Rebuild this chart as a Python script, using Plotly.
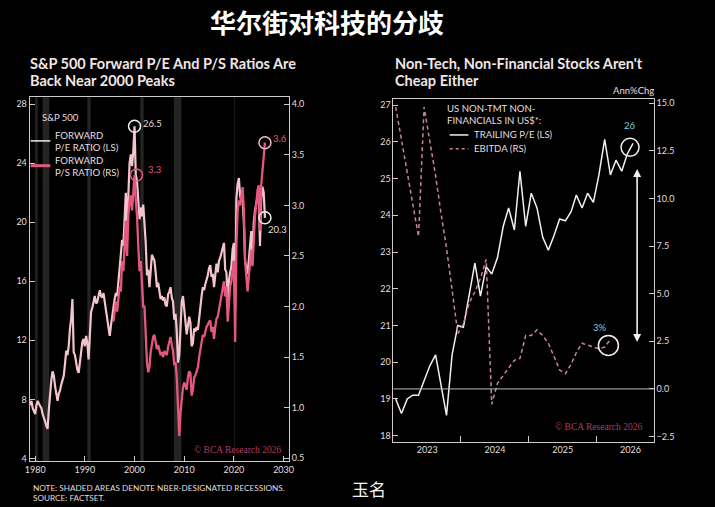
import pandas as pd
import plotly.graph_objects as go

# ---------------- LEFT CHART DATA (quarterly, from 1979Q1) ----------------
pe_start = "1979-01-01"
fwd_pe = [
    7.6, 7.9, 7.4, 7.2,      # 1979
    7.0, 7.6, 7.9, 7.7,      # 1980
    7.5, 7.4, 7.0, 6.8,      # 1981
    6.5, 6.2, 6.0, 7.3,      # 1982
    8.4, 9.3, 9.9, 9.6,      # 1983
    8.9, 8.2, 7.9, 8.4,      # 1984
    8.6, 9.0, 9.4, 9.6,      # 1985
    10.4, 11.3, 11.0, 11.6,  # 1986
    12.8, 13.5, 14.8, 11.2,  # 1987
    11.0, 10.4, 10.0, 9.8,   # 1988
    10.5, 11.2, 11.9, 12.1,  # 1989
    11.6, 12.3, 11.8, 10.7,  # 1990
    12.4, 13.9, 14.2, 14.6,  # 1991
    15.0, 14.5, 14.6, 15.0,  # 1992
    15.4, 15.0, 14.9, 15.2,  # 1993
    14.6, 13.9, 13.4, 12.6,  # 1994
    12.3, 13.0, 13.8, 14.2,  # 1995
    14.8, 15.2, 15.0, 16.0,  # 1996
    16.6, 17.4, 18.8, 18.4,  # 1997
    20.2, 22.0, 19.6, 22.6,  # 1998
    24.0, 24.6, 23.8, 24.8,  # 1999
    26.5, 23.2, 22.8, 21.5,  # 2000
    20.2, 21.0, 20.4, 21.2,  # 2001
    20.0, 18.6, 16.4, 16.8,  # 2002
    15.6, 16.8, 17.8, 17.6,  # 2003
    17.4, 16.6, 15.6, 15.9,  # 2004
    15.2, 14.8, 15.0, 14.7,  # 2005
    14.9, 14.4, 14.3, 15.1,  # 2006
    15.3, 15.6, 14.9, 14.6,  # 2007
    13.4, 13.8, 12.6, 10.5,  # 2008
    11.0, 13.4, 14.6, 15.0,  # 2009
    14.2, 13.0, 12.4, 13.0,  # 2010
    13.6, 13.2, 11.6, 11.8,  # 2011
    12.8, 12.6, 12.9, 12.7,  # 2012
    13.6, 14.4, 15.0, 15.6,  # 2013
    15.4, 15.8, 16.1, 16.4,  # 2014
    16.9, 17.1, 16.3, 16.5,  # 2015
    15.6, 16.7, 17.2, 16.6,  # 2016
    17.4, 17.6, 17.9, 18.3,  # 2017
    18.6, 16.8, 16.6, 14.6,  # 2018
    16.1, 16.6, 17.0, 18.2,  # 2019
    18.6, 14.2, 21.6, 22.6,  # 2020
    23.0, 21.8, 21.4, 21.6,  # 2021
    20.0, 17.4, 16.8, 16.5,  # 2022
    17.4, 18.2, 19.4, 17.8,  # 2023
    20.0, 20.8, 21.2, 21.8,  # 2024
    22.2, 18.4, 21.6, 22.4,  # 2025
    22.0, 20.3,              # 2026
]

ps_start = "1995-10-01"
fwd_ps = [
    1.85,                    # 1995Q4
    1.95, 2.05, 1.95, 2.10,  # 1996
    2.20, 2.15, 2.45, 2.35,  # 1997
    2.60, 2.85, 2.50, 2.90,  # 1998
    3.05, 3.10, 2.95, 3.20,  # 1999
    3.30, 3.05, 2.90, 2.60,  # 2000
    2.35, 2.45, 2.20, 2.00,  # 2001
    2.00, 1.75, 1.45, 1.35,  # 2002
    1.40, 1.55, 1.65, 1.70,  # 2003
    1.72, 1.66, 1.58, 1.62,  # 2004
    1.56, 1.52, 1.55, 1.50,  # 2005
    1.56, 1.54, 1.52, 1.60,  # 2006
    1.64, 1.70, 1.62, 1.56,  # 2007
    1.42, 1.45, 1.30, 0.95,  # 2008
    0.72, 0.95, 1.08, 1.20,  # 2009
    1.25, 1.20, 1.18, 1.30,  # 2010
    1.36, 1.34, 1.12, 1.18,  # 2011
    1.30, 1.32, 1.36, 1.40,  # 2012
    1.50, 1.58, 1.62, 1.72,  # 2013
    1.70, 1.76, 1.80, 1.82,  # 2014
    1.85, 1.86, 1.75, 1.80,  # 2015
    1.68, 1.80, 1.88, 1.90,  # 2016
    1.98, 2.04, 2.10, 2.20,  # 2017
    2.25, 2.10, 2.20, 1.85,  # 2018
    2.05, 2.20, 2.25, 2.35,  # 2019
    2.45, 1.65, 2.60, 2.95,  # 2020
    3.05, 3.00, 3.12, 3.18,  # 2021
    2.95, 2.45, 2.30, 2.15,  # 2022
    2.30, 2.45, 2.55, 2.40,  # 2023
    2.75, 2.90, 3.00, 3.15,  # 2024
    3.20, 2.75, 3.20, 3.35,  # 2025
    3.45, 3.62,              # 2026
]

recession_start = ["1980-01-01", "1981-07-01", "1990-07-01", "2001-03-01", "2007-12-01", "2020-02-01"]
recession_end = ["1980-07-01", "1982-11-01", "1991-03-01", "2001-11-01", "2009-06-01", "2020-04-01"]

left_years = ["1980", "1990", "2000", "2010", "2020", "2030"]
left_ls_ticks = [4, 8, 12, 16, 20, 24, 28]
left_rs_ticks = [0.5, 1.0, 1.5, 2.0, 2.5, 3.0, 3.5, 4.0]

# ---------------- RIGHT CHART DATA (monthly, from Jul 2022) ----------------
month_start = "2022-07-01"
trailing_pe = [
    19.0, 18.6, 19.0, 19.1, 19.1, 19.5,          # Jul-Dec 2022
    19.9, 20.2, 19.4, 18.55, 20.2, 21.0,         # 2023 H1
    20.95, 21.8, 22.7, 21.8, 22.6, 22.4,         # 2023 H2
    22.85, 23.7, 24.2, 23.6, 25.2, 23.7,         # 2024 H1
    24.6, 24.2, 23.4, 23.05, 23.45, 23.9,        # 2024 H2
    23.85, 24.1, 24.55, 24.2, 24.6, 24.35,       # 2025 H1
    25.1, 26.07, 25.1, 25.5, 25.2, 25.67,        # 2025 H2
    25.96,                                       # Jan 2026
]
ebitda = [
    14.8, 13.1, 11.4, 9.7, 8.0, 14.8,
    13.0, 11.2, 9.3, 7.4, 5.2, 2.9,
    3.4, 4.5, 5.1, 5.8, 6.8, -0.8,
    0.3, 0.7, 1.1, 1.5, 1.6, 2.8,
    2.8, 3.1, 2.8, 2.4, 1.7, 1.0,
    0.8, 1.3, 1.9, 2.4, 2.3, 2.2,
    2.1, 2.2, 2.6,
]
right_years = ["2023", "2024", "2025", "2026"]
right_ls_ticks = [18, 19, 20, 21, 22, 23, 24, 25, 26, 27]
right_rs_ticks = [-2.5, 0.0, 2.5, 5.0, 7.5, 10.0, 12.5, 15.0]

# ---------------- build ----------------
pe_dates = pd.date_range(pe_start, periods=len(fwd_pe), freq="QS")
ps_dates = pd.date_range(ps_start, periods=len(fwd_ps), freq="QS")
m_dates = pd.date_range(month_start, periods=len(trailing_pe), freq="MS") + pd.Timedelta(days=14)
e_dates = m_dates[:len(ebitda)]

BG = "#000000"
AX = "#cfcaca"
TXT = "#e6dede"
PE_C = "#f3c4cd"
PS_C = "#e4587f"
EB_C = "#c98494"
TEAL = "#7fcfcf"
FONT = "Lato"

fig = go.Figure()
fig.add_trace(go.Scatter(x=pe_dates, y=fwd_pe, xaxis="x", yaxis="y", mode="lines",
                         line=dict(color=PE_C, width=2.2), showlegend=False, hoverinfo="skip"))
fig.add_trace(go.Scatter(x=ps_dates, y=fwd_ps, xaxis="x", yaxis="y2", mode="lines",
                         line=dict(color=PS_C, width=2.3), showlegend=False, hoverinfo="skip"))
fig.add_trace(go.Scatter(x=m_dates, y=trailing_pe, xaxis="x3", yaxis="y3", mode="lines",
                         line=dict(color="#f4f0f0", width=1.5), showlegend=False, hoverinfo="skip"))
fig.add_trace(go.Scatter(x=e_dates, y=ebitda, xaxis="x3", yaxis="y4", mode="lines",
                         line=dict(color=EB_C, width=1.5, dash="4px,3px"), showlegend=False,
                         hoverinfo="skip"))

tickfont = dict(family=FONT, size=9, color=TXT)
common = dict(showgrid=False, zeroline=False, showline=True, linecolor=AX, linewidth=1,
              ticks="inside", ticklen=5, tickcolor=AX, tickfont=tickfont)

shapes = []
for s, e in zip(recession_start, recession_end):
    shapes.append(dict(type="rect", xref="x", yref="y domain", x0=s, x1=e, y0=0, y1=1,
                       fillcolor="rgba(255,255,255,0.14)", line=dict(width=0), layer="below"))
# zero line on right chart
shapes.append(dict(type="line", xref="x3 domain", yref="y4", x0=0, x1=1, y0=0, y1=0,
                   line=dict(color="#bdb8b8", width=1)))
# circles
def circ(xref, yref, x, y, r, color, dx=0, dy=0):
    return dict(type="circle", xref=xref, yref=yref, xsizemode="pixel", ysizemode="pixel",
                xanchor=x, yanchor=y, x0=dx - r, x1=dx + r, y0=dy - r, y1=dy + r,
                line=dict(color=color, width=1.5))
shapes.append(circ("x", "y", pe_dates[84], fwd_pe[84], 6, "#f4eeee", 0, 0))
shapes.append(circ("x", "y2", ps_dates[17], fwd_ps[17], 6, PS_C, 2, 0))
shapes.append(circ("x", "y2", ps_dates[-1], fwd_ps[-1], 6, "#f2b8c6", 0, 0))
shapes.append(circ("x", "y", pe_dates[-1], fwd_pe[-1], 6, "#f4eeee", 0, 0))
shapes.append(circ("x3", "y3", m_dates[-1], trailing_pe[-1], 9, "#f4f0f0", -3, -4))
shapes.append(circ("x3", "y4", e_dates[-1], ebitda[-1], 10, "#f4f0f0", -2, -6))
# legend samples (paper coords)
W, H = 715, 507
def pline(x0, x1, y, color, width, dash="solid"):
    return dict(type="line", xref="paper", yref="paper", x0=x0 / W, x1=x1 / W,
                y0=1 - y / H, y1=1 - y / H, line=dict(color=color, width=width, dash=dash))
shapes.append(pline(26, 46, 140, "#f4eeee", 1.5))
shapes.append(pline(26, 46, 165, PS_C, 3))
shapes.append(pline(451, 470, 134, "#f4f0f0", 1.5))
shapes.append(pline(451, 470, 148, EB_C, 1.5, "3px,3px"))

ann = []
def txt(x, y, text, size=9, color=TXT, xanchor="left", family=FONT, yanchor="middle"):
    ann.append(dict(xref="paper", yref="paper", x=x / W, y=1 - y / H, text=text, showarrow=False,
                    xanchor=xanchor, yanchor=yanchor, font=dict(family=family, size=size, color=color)))

txt(327, 20, "<b>华尔街对科技的分歧</b>", 26, "#ffffff", "center", "Noto Sans CJK SC")
txt(23, 62, "<b>S&P 500 Forward P/E And P/S Ratios Are</b>", 14.5, "#f1e6e6")
txt(23, 79, "<b>Back Near 2000 Peaks</b>", 14.5, "#f1e6e6")
txt(393, 62, "<b>Non-Tech, Non-Financial Stocks Aren't</b>", 14.5, "#f1e6e6")
txt(393, 79, "<b>Cheap Either</b>", 14.5, "#f1e6e6")
txt(660, 89, "Ann%Chg", 9.5, TXT, "right")
txt(35, 116, "S&P 500", 9.5, TXT)
txt(49, 135, "FORWARD", 9.6, TXT)
txt(49, 147, "P/E RATIO (LS)", 9.6, TXT)
txt(49, 160, "FORWARD", 9.6, TXT)
txt(49, 172, "P/S RATIO (RS)", 9.6, TXT)
txt(446, 107, "US NON-TMT NON-", 9.6, TXT)
txt(446, 119, "FINANCIALS IN US$*:", 9.6, TXT)
txt(474, 134, "TRAILING P/E (LS)", 9.6, TXT)
txt(474, 148, "EBITDA (RS)", 9.6, TXT)
txt(282, 452, "© BCA Research 2026", 9.5, "#b23c60", "right", "Liberation Serif")
txt(648, 428, "© BCA Research 2026", 9.5, "#b23c60", "right", "Liberation Serif")
txt(26, 490, "NOTE: SHADED AREAS DENOTE NBER-DESIGNATED RECESSIONS.", 8.2, TXT)
txt(26, 500, "SOURCE: FACTSET.", 8.2, TXT)
txt(350, 490, "玉名", 17, "#f4f4f4", "left", "Noto Sans CJK SC")

# value labels near circles
def dlab(xref, yref, x, y, text, color, dx, dy, size=9.5):
    ann.append(dict(xref=xref, yref=yref, x=x, y=y, text=text, showarrow=False,
                    xshift=dx, yshift=dy, xanchor="left", font=dict(family=FONT, size=size, color=color)))
dlab("x", "y", pe_dates[84], fwd_pe[84], "26.5", TXT, 6, 3)
dlab("x", "y2", ps_dates[17], fwd_ps[17], "3.3", PS_C, 11, 6)
dlab("x", "y2", ps_dates[-1], fwd_ps[-1], "3.6", PS_C, 6, 4)
dlab("x", "y", pe_dates[-1], fwd_pe[-1], "20.3", TXT, 1, -12)
ann.append(dict(xref="x3", yref="y3", x=m_dates[-1], y=trailing_pe[-1], text="26", showarrow=False,
                yshift=18, xshift=-3, font=dict(family=FONT, size=9.5, color=TEAL)))
ann.append(dict(xref="x3", yref="y4", x=e_dates[-1], y=ebitda[-1], text="3%", showarrow=False,
                yshift=12, xshift=-10, font=dict(family=FONT, size=9.5, color=TEAL)))
# double headed arrow
ann.append(dict(xref="x3", yref="y3", axref="x3", ayref="y3", x="2026-02-06", y=20.55,
                ax="2026-02-06", ay=25.3, text="", showarrow=True, arrowhead=2, startarrowhead=2,
                arrowside="end+start", arrowsize=1, arrowwidth=1.6, arrowcolor="#f4f0f0"))

fig.update_layout(
    width=W, height=H, paper_bgcolor=BG, plot_bgcolor=BG,
    margin=dict(l=0, r=0, t=0, b=0), showlegend=False, hovermode=False,
    xaxis=dict(common, type="date", domain=[25 / W, 288 / W], anchor="y", mirror=True,
               range=["1978-11-20", "2031-02-01"],
               tickvals=[y + "-01-01" for y in left_years], ticktext=left_years),
    yaxis=dict(common, domain=[1 - 463 / H, 1 - 96 / H], anchor="x", range=[3.8, 28.47],
               tickvals=left_ls_ticks),
    yaxis2=dict(common, overlaying="y", side="right", anchor="x", range=[0.47, 4.069],
                tickvals=left_rs_ticks, tickformat=".1f"),
    xaxis3=dict(common, type="date", domain=[394 / W, 658 / W], anchor="y3", mirror=True,
                range=["2022-07-03", "2026-05-07"], ticks="",
                tickvals=[y + "-01-01" for y in right_years], ticktext=right_years,
                minor=dict(tickvals=[y + "-07-01" for y in right_years[:-1]], ticks="inside",
                           ticklen=6, tickcolor=AX)),
    yaxis3=dict(common, domain=[1 - 443 / H, 1 - 98 / H], anchor="x3", range=[17.84, 27.16],
                tickvals=right_ls_ticks),
    yaxis4=dict(common, overlaying="y3", side="right", anchor="x3", range=[-2.76, 15.21],
                tickvals=right_rs_ticks, tickformat=".1f"),
    shapes=shapes, annotations=ann,
)

fig.write_html("out.html", config={"displayModeBar": False, "staticPlot": True},
               post_script="document.body.style.margin='0';document.body.style.background='#000';")
